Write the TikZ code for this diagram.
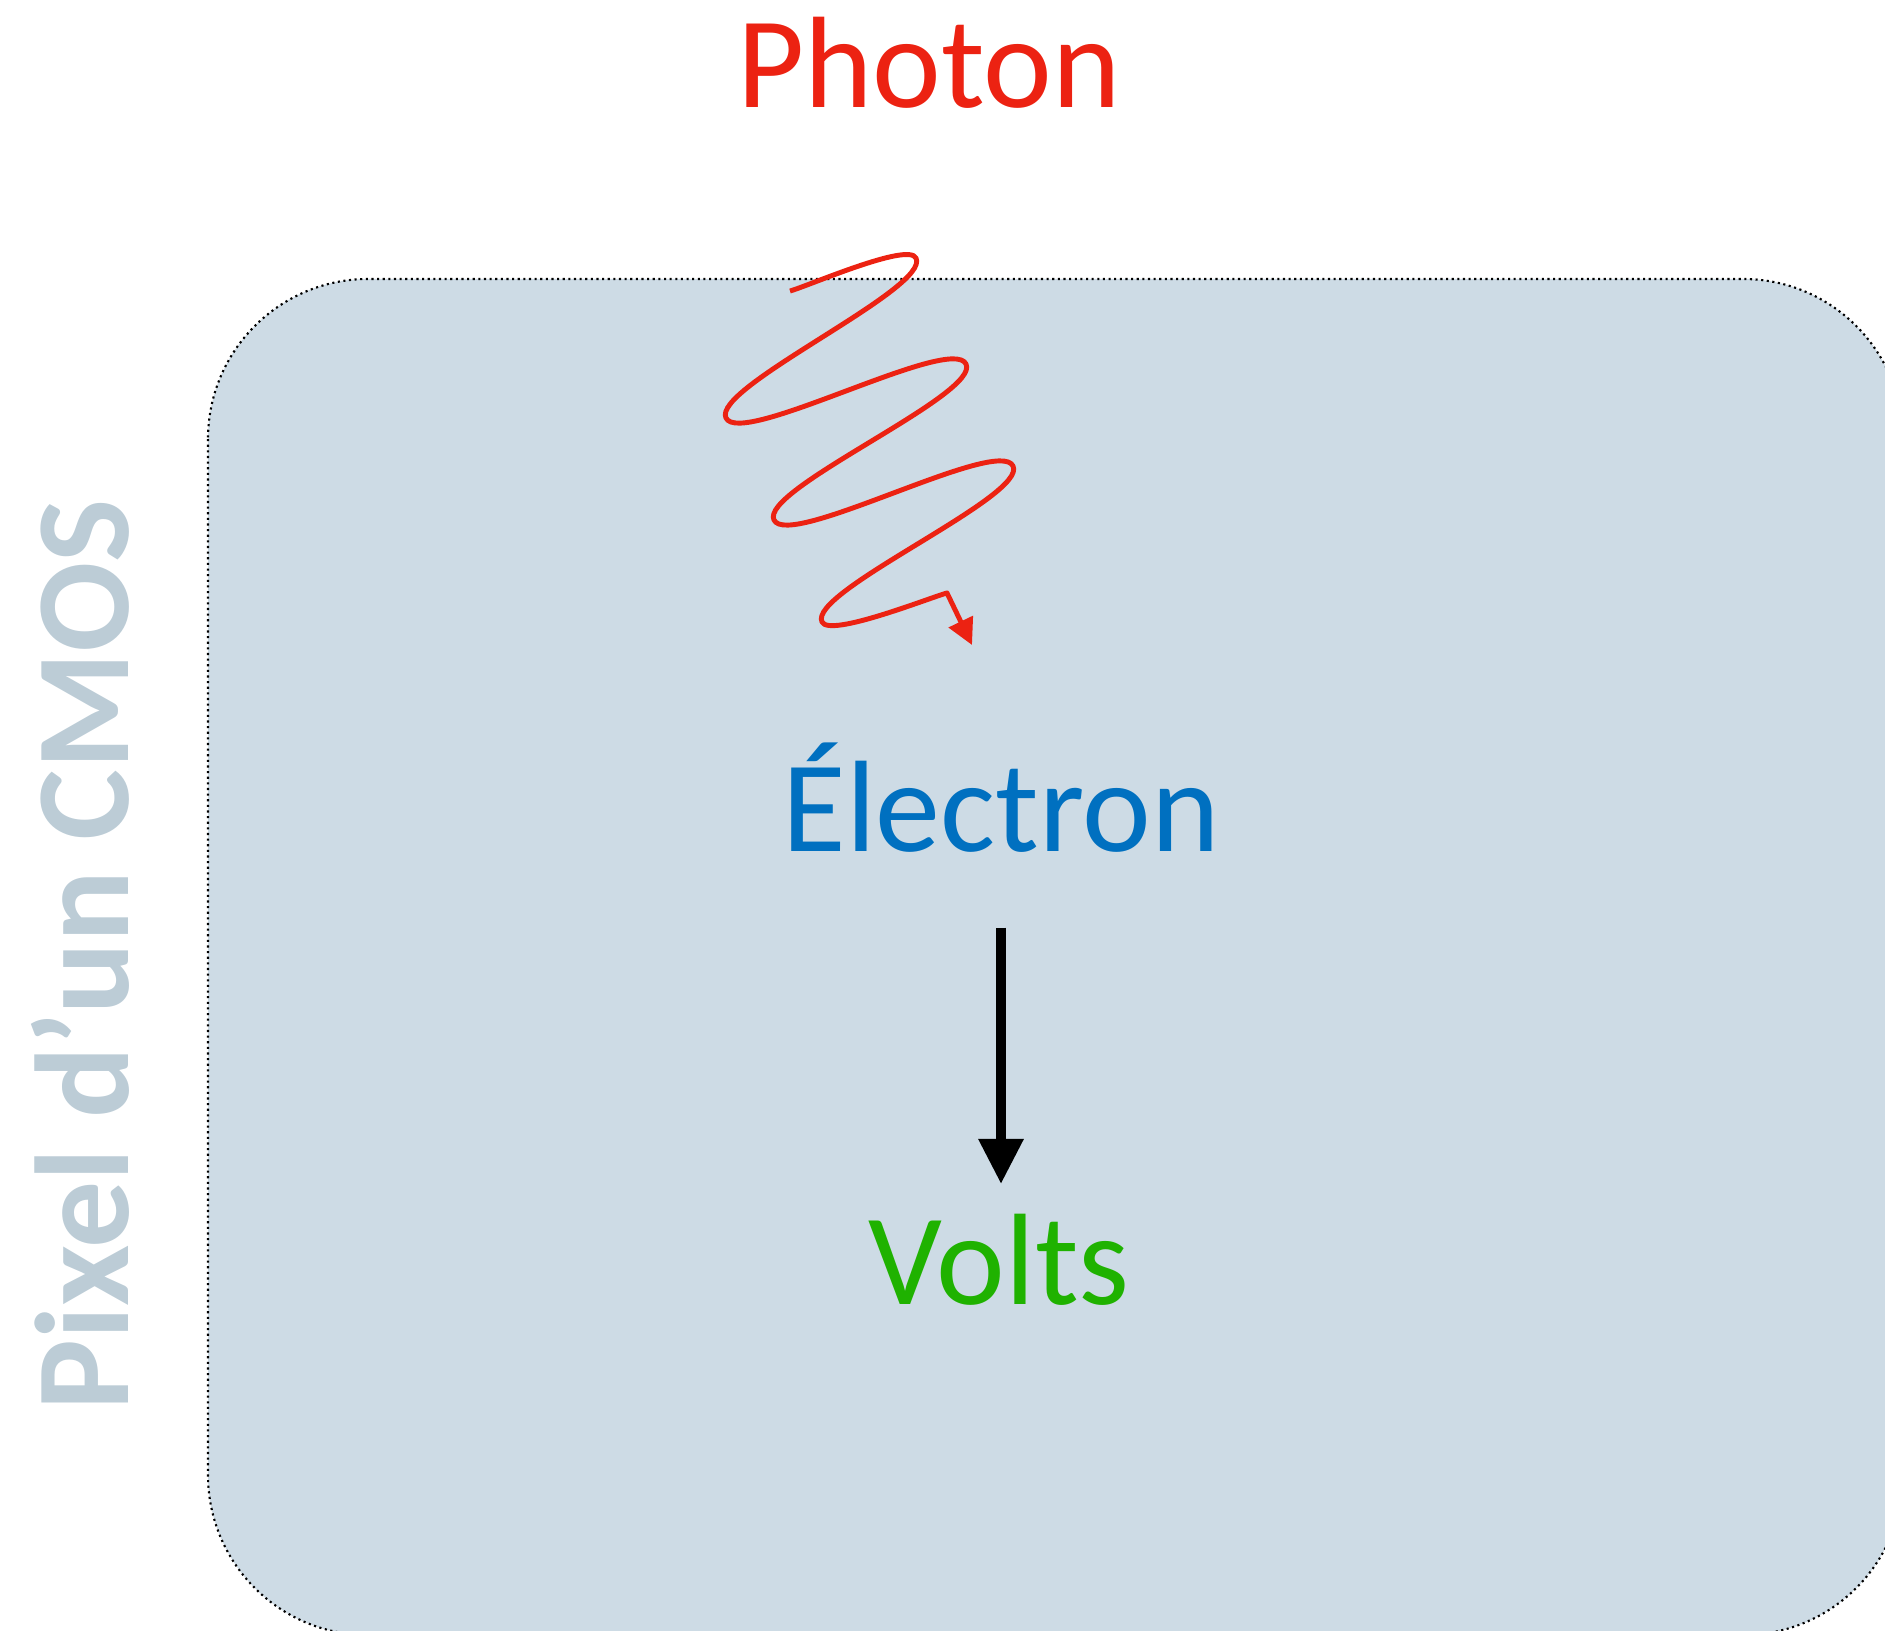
\documentclass[tikz,border=0pt]{standalone}
\usepackage{fontspec}
\setmainfont{Carlito}
\usepackage{tikz}
\usetikzlibrary{arrows.meta,positioning}
\definecolor{photonred}{RGB}{236,34,18}
\definecolor{electronblue}{RGB}{0,112,192}
\definecolor{voltgreen}{RGB}{31,178,0}
\definecolor{pixelfill}{RGB}{205,219,229}
\definecolor{pixelgray}{RGB}{188,204,214}

\begin{document}
\begin{tikzpicture}[x=0.01cm, y=0.01cm,
    every node/.style={font=\fontsize{37}{40}\selectfont, inner sep=0pt},
    lbl/.style={anchor=base},
    wiggle/.style={photonred, line width=1.4pt, line join=round},
    conv/.style={-{Triangle[width=0.43cm,length=0.45cm]}, line width=2.7pt}]
  \useasboundingbox (0,0) rectangle (1885,-1631);
  \clip (0,0) rectangle (1885,-1631);
  % pixel
  \draw[fill=pixelfill, densely dotted, line width=0.6pt, rounded corners=1.6cm]
    (208,-279) rectangle (1903,-1635);
  \node[lbl, rotate=90, pixelgray, font=\fontsize{38}{40}\selectfont\bfseries]
    (pixel) at (128,-955) {Pixel d’un CMOS};
  % labels
  \node[lbl, photonred] (photon) at (929,-108) {Photon};
  \node[lbl, electronblue] (electron) at (1001,-851) {Électron};
  \node[lbl, voltgreen] (volts) at (999,-1304) {Volts};
  % photon wave
  \coordinate (w0) at (790,-291);
  \coordinate (w1) at (916,-258);
  \coordinate (w2) at (726,-418);
  \coordinate (w3) at (966,-364);
  \coordinate (w4) at (774,-520);
  \coordinate (w5) at (1013,-466);
  \coordinate (w6) at (822,-622);
  \coordinate (w7) at (947,-593);
  \coordinate (wtip) at (972,-645);
  \draw[wiggle, -{Triangle[width=0.26cm,length=0.26cm]}]
    (w0) to[out=15,in=116,looseness=.35] (w1)
    to[out=296,in=116,looseness=.35] (w2)
    to[out=296,in=116,looseness=.35] (w3)
    to[out=296,in=116,looseness=.35] (w4)
    to[out=296,in=116,looseness=.35] (w5)
    to[out=296,in=116,looseness=.35] (w6)
    to[out=296,in=195,looseness=.35] (w7) -- (wtip);
  % conversion
  \draw[conv, shorten <=0.75cm, shorten >=0.29cm]
    (electron.south) -- (electron.south |- volts.north);
\end{tikzpicture}
\end{document}
